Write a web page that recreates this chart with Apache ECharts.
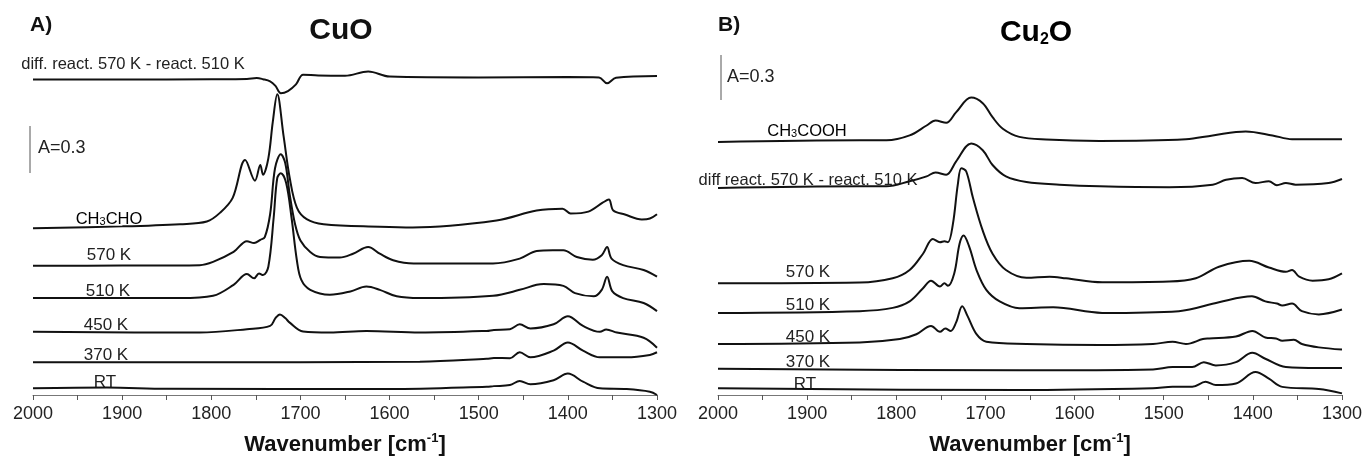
<!DOCTYPE html>
<html>
<head>
<meta charset="utf-8">
<script src="https://cdn.jsdelivr.net/npm/echarts@6/dist/echarts.min.js"></script>
<style>
  html, body { margin: 0; padding: 0; background: #fff; }
  #chart { width: 1365px; height: 461px; }
</style>
</head>
<body>
<div id="chart"></div>
<script>
// x tick labels (wavenumber, cm-1)
var wn_ticks = [2000, 1900, 1800, 1700, 1600, 1500, 1400, 1300];

// A) CuO spectra, [wavenumber, absorbance incl. stacking offset]
var cuo_diff = [[2000,2.133],[1900,2.133],[1800,2.135],[1760,2.137],[1749,2.143],[1742,2.135],[1734,2.12],[1728,2.09],[1722,2.04],[1714,2.055],[1705,2.1],[1697,2.165],[1680,2.16],[1650,2.158],[1624,2.187],[1600,2.153],[1500,2.147],[1400,2.15],[1365,2.147],[1356,2.107],[1346,2.145],[1300,2.157]];
var cuo_ch3cho = [[2000,1.127],[1900,1.14],[1835,1.155],[1805,1.173],[1790,1.233],[1776,1.333],[1762,1.589],[1751,1.449],[1745,1.555],[1742,1.489],[1736,1.6],[1731,1.847],[1726,2.033],[1719,1.755],[1712,1.467],[1704,1.267],[1693,1.189],[1674,1.155],[1611,1.138],[1574,1.133],[1480,1.18],[1435,1.247],[1406,1.26],[1397,1.227],[1377,1.24],[1361,1.3],[1354,1.322],[1349,1.247],[1336,1.22],[1317,1.187],[1308,1.193],[1300,1.222]];
var cuo_570 = [[2000,0.873],[1900,0.875],[1813,0.878],[1798,0.9],[1775,0.967],[1760,1.04],[1752,1.027],[1745,1.049],[1740,1.067],[1734,1.222],[1728.5,1.533],[1722,1.627],[1717,1.567],[1712,1.355],[1706,1.155],[1700,1.045],[1689,0.967],[1678,0.933],[1656,0.929],[1641,0.955],[1624,1.0],[1611,0.955],[1596,0.911],[1573,0.889],[1484,0.889],[1454,0.922],[1435,0.973],[1417,0.978],[1405,0.978],[1390,0.933],[1372,0.915],[1362,0.945],[1356,1.0],[1351,0.922],[1338,0.878],[1315,0.845],[1300,0.8]];
var cuo_510 = [[2000,0.655],[1835,0.655],[1798,0.671],[1775,0.745],[1760,0.818],[1752,0.789],[1746.5,0.822],[1742,0.811],[1736,0.867],[1730,1.2],[1726,1.467],[1722,1.5],[1716,1.433],[1710,1.2],[1704,0.911],[1699,0.778],[1689,0.711],[1667,0.678],[1644,0.7],[1626,0.733],[1611,0.711],[1592,0.667],[1566,0.655],[1484,0.671],[1454,0.711],[1435,0.745],[1427,0.751],[1405,0.738],[1392,0.689],[1371,0.667],[1362,0.711],[1356,0.8],[1350,0.7],[1338,0.655],[1315,0.622],[1300,0.567]];
var cuo_450 = [[2000,0.427],[1813,0.422],[1760,0.445],[1734,0.467],[1728,0.52],[1723,0.545],[1717,0.52],[1712,0.489],[1697,0.429],[1667,0.422],[1626,0.433],[1566,0.422],[1491,0.433],[1483,0.44],[1465,0.445],[1454,0.478],[1442,0.45],[1416,0.478],[1400,0.533],[1383,0.467],[1364,0.427],[1357,0.443],[1345,0.422],[1315,0.387],[1300,0.32]];
var cuo_370 = [[2000,0.222],[1700,0.222],[1566,0.225],[1491,0.245],[1483,0.25],[1465,0.249],[1454,0.289],[1442,0.255],[1416,0.3],[1400,0.355],[1383,0.3],[1364,0.255],[1334,0.255],[1308,0.271],[1300,0.289]];
var cuo_rt = [[2000,0.045],[1917,0.05],[1850,0.042],[1600,0.04],[1491,0.055],[1483,0.06],[1465,0.067],[1454,0.095],[1442,0.073],[1416,0.1],[1400,0.145],[1383,0.09],[1364,0.045],[1334,0.04],[1308,0.022],[1300,0.0]];

// B) Cu2O spectra
var cu2o_ch3cooh = [[2000,1.711],[1841,1.722],[1811,1.722],[1785,1.755],[1766,1.822],[1756,1.855],[1744,1.84],[1733,1.911],[1716,2.011],[1703,1.973],[1692,1.878],[1680.5,1.8],[1662,1.745],[1632,1.727],[1572,1.718],[1475,1.729],[1445,1.755],[1408,1.782],[1378,1.755],[1356,1.729],[1300,1.729]];
var cu2o_diff = [[2000,1.4],[1841,1.411],[1811,1.411],[1785,1.445],[1766,1.478],[1756,1.505],[1744,1.489],[1733,1.578],[1716,1.7],[1703,1.655],[1692,1.555],[1677,1.478],[1654,1.44],[1617,1.422],[1572,1.411],[1494,1.405],[1445,1.422],[1430,1.455],[1412,1.467],[1397,1.433],[1382,1.445],[1373,1.418],[1363,1.433],[1352,1.422],[1315,1.433],[1300,1.46]];
var cu2o_570 = [[2000,0.755],[1841,0.76],[1804,0.789],[1785,0.845],[1770,0.955],[1759,1.055],[1751,1.033],[1746,1.04],[1742,1.033],[1736.5,1.155],[1731,1.422],[1727,1.533],[1721.5,1.511],[1714,1.333],[1703,1.111],[1692,0.955],[1677,0.845],[1654,0.793],[1628,0.8],[1609.5,0.789],[1569,0.762],[1494,0.767],[1464,0.789],[1438,0.867],[1404,0.907],[1382,0.862],[1363,0.833],[1356,0.845],[1348,0.8],[1333,0.773],[1315,0.782],[1300,0.822]];
var cu2o_510 = [[2000,0.555],[1841,0.567],[1804,0.589],[1785,0.633],[1770,0.722],[1761,0.773],[1751,0.733],[1746,0.755],[1742,0.738],[1735,0.822],[1729,1.022],[1724.5,1.078],[1718,1.0],[1710,0.845],[1699,0.711],[1684,0.633],[1662,0.587],[1624,0.593],[1569,0.555],[1483,0.567],[1438,0.627],[1401,0.667],[1386,0.633],[1373,0.618],[1367,0.605],[1356,0.618],[1345,0.567],[1326,0.545],[1300,0.578]];
var cu2o_450 = [[2000,0.345],[1841,0.355],[1796,0.378],[1777.5,0.411],[1761,0.467],[1751,0.427],[1745,0.449],[1739,0.433],[1733,0.489],[1726,0.6],[1720,0.533],[1710,0.411],[1699,0.36],[1654,0.345],[1572,0.338],[1512,0.345],[1490,0.36],[1475,0.345],[1456,0.378],[1449,0.382],[1419,0.395],[1400.6,0.433],[1386,0.389],[1374,0.382],[1367,0.367],[1354,0.373],[1345,0.345],[1326,0.322],[1300,0.307]];
var cu2o_370 = [[2000,0.178],[1662,0.167],[1512,0.173],[1490,0.189],[1468,0.189],[1455,0.222],[1441.5,0.2],[1419,0.222],[1400.6,0.285],[1386,0.245],[1363,0.189],[1326,0.182],[1300,0.182]];
var cu2o_rt = [[2000,0.045],[1662,0.033],[1512,0.045],[1490,0.055],[1468,0.055],[1453,0.089],[1441.5,0.067],[1419,0.078],[1397,0.155],[1382,0.111],[1367,0.055],[1326,0.04],[1300,0.011]];

var FONT = '"Liberation Sans", Arial, sans-serif';

var chart = echarts.init(document.getElementById('chart'));

function spectrum(data, idx) {
  return {
    type: 'line',
    xAxisIndex: idx,
    yAxisIndex: idx,
    data: data,
    showSymbol: false,
    smooth: 0.35,
    animation: false,
    silent: true,
    lineStyle: { color: '#111', width: 2 }
  };
}

function wn_axis(idx) {
  return {
    type: 'value',
    gridIndex: idx,
    inverse: true,
    min: 1300,
    max: 2000,
    interval: 100,
    name: '{b|Wavenumber [cm}{sup|-1}{b|]}',
    nameLocation: 'middle',
    nameGap: 37,
    nameTextStyle: {
      rich: {
        b: { fontFamily: FONT, fontWeight: 'bold', fontSize: 22, color: '#111', verticalAlign: 'bottom', lineHeight: 24 },
        sup: { fontFamily: FONT, fontWeight: 'bold', fontSize: 13, color: '#111', verticalAlign: 'top', lineHeight: 24 }
      }
    },
    axisLine: { show: true, lineStyle: { color: '#777', width: 1 } },
    axisTick: { show: true, inside: false, length: 5, lineStyle: { color: '#555' } },
    minorTick: { show: true, splitNumber: 2, length: 5, lineStyle: { color: '#555' } },
    splitLine: { show: false },
    axisLabel: {
      margin: 10,
      fontFamily: FONT,
      fontSize: 18,
      color: '#222',
      formatter: function (v) { return wn_ticks.indexOf(v) >= 0 ? String(v) : ''; }
    }
  };
}

function abs_axis(idx) {
  return { type: 'value', gridIndex: idx, min: 0, max: 2.4, show: false };
}

function label(txt, x, y, size) {
  return {
    type: 'text', x: x, y: y, silent: true,
    style: { text: txt, font: (size || 17) + 'px ' + FONT, fill: '#222', align: 'center', verticalAlign: 'middle' }
  };
}

// label with a subscript digit, e.g. CH3CHO
function sub_label(parts, x, y) {
  return {
    type: 'text', x: x, y: y, silent: true,
    style: {
      text: parts, align: 'center', verticalAlign: 'middle',
      rich: {
        n: { fontFamily: FONT, fontSize: 16.5, color: '#222', verticalAlign: 'bottom', lineHeight: 19 },
        s: { fontFamily: FONT, fontSize: 11, color: '#222', verticalAlign: 'bottom', lineHeight: 15 }
      }
    }
  };
}

function scale_bar(x, y1, y2) {
  return {
    type: 'line', silent: true,
    shape: { x1: x, y1: y1, x2: x, y2: y2 },
    style: { stroke: '#555', lineWidth: 1 }
  };
}

var option = {
  backgroundColor: '#fff',
  animation: false,
  grid: [
    { left: 33, width: 624, top: 40, height: 360 },
    { left: 718, width: 625, top: 40, height: 360 }
  ],
  xAxis: [wn_axis(0), wn_axis(1)],
  yAxis: [abs_axis(0), abs_axis(1)],
  series: [
    spectrum(cuo_diff, 0), spectrum(cuo_ch3cho, 0), spectrum(cuo_570, 0),
    spectrum(cuo_510, 0), spectrum(cuo_450, 0), spectrum(cuo_370, 0), spectrum(cuo_rt, 0),
    spectrum(cu2o_ch3cooh, 1), spectrum(cu2o_diff, 1), spectrum(cu2o_570, 1),
    spectrum(cu2o_510, 1), spectrum(cu2o_450, 1), spectrum(cu2o_370, 1), spectrum(cu2o_rt, 1)
  ],
  graphic: [
    // panel A
    { type: 'text', x: 30, y: 25, style: { text: 'A)', font: 'bold 21px ' + FONT, fill: '#111', verticalAlign: 'middle' } },
    { type: 'text', x: 341, y: 31, style: { text: 'CuO', font: 'bold 30px ' + FONT, fill: '#111', align: 'center', verticalAlign: 'middle' } },
    label('diff. react. 570 K - react. 510 K', 133, 64, 16.5),
    scale_bar(30, 126, 173),
    { type: 'text', x: 38, y: 148, style: { text: 'A=0.3', font: '18px ' + FONT, fill: '#222', verticalAlign: 'middle' } },
    sub_label('{n|CH}{s|3}{n|CHO}', 109, 218),
    label('570 K', 109, 255),
    label('510 K', 108, 291),
    label('450 K', 106, 325),
    label('370 K', 106, 355),
    label('RT', 105, 382),
    // panel B
    { type: 'text', x: 718, y: 25, style: { text: 'B)', font: 'bold 21px ' + FONT, fill: '#111', verticalAlign: 'middle' } },
    {
      type: 'text', x: 1036, y: 31,
      style: {
        text: '{b|Cu}{s|2}{b|O}', align: 'center', verticalAlign: 'middle',
        rich: {
          b: { fontFamily: FONT, fontWeight: 'bold', fontSize: 30, color: '#111', verticalAlign: 'bottom', lineHeight: 33 },
          s: { fontFamily: FONT, fontWeight: 'bold', fontSize: 16, color: '#111', verticalAlign: 'bottom', lineHeight: 27 }
        }
      }
    },
    scale_bar(721, 55, 100),
    { type: 'text', x: 727, y: 77, style: { text: 'A=0.3', font: '18px ' + FONT, fill: '#222', verticalAlign: 'middle' } },
    sub_label('{n|CH}{s|3}{n|COOH}', 807, 130),
    label('diff react. 570 K - react. 510 K', 808, 180, 16.5),
    label('570 K', 808, 272),
    label('510 K', 808, 305),
    label('450 K', 808, 337),
    label('370 K', 808, 362),
    label('RT', 805, 384)
  ]
};

chart.setOption(option);
</script>
</body>
</html>
